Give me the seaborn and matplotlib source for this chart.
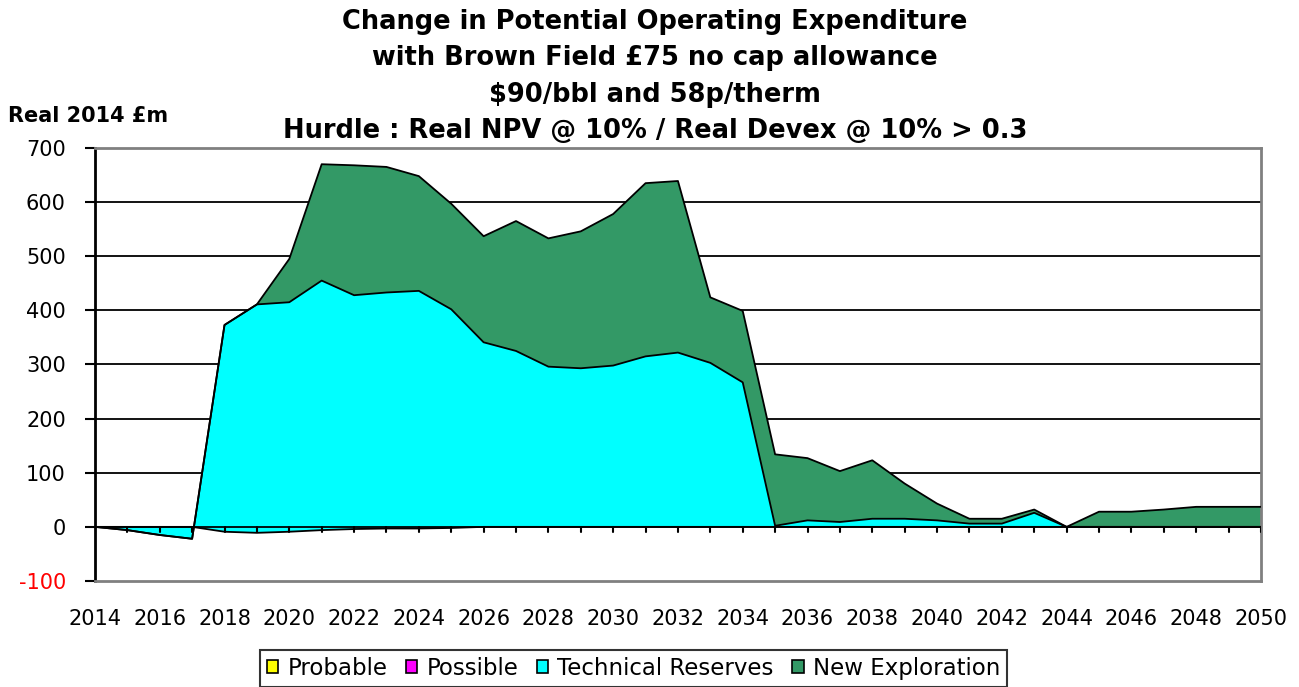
import numpy as np
import pandas as pd
import matplotlib
matplotlib.use("Agg")
import matplotlib.pyplot as plt
import seaborn as sns
from matplotlib.patches import Patch

# ---- data ----
years = list(range(2014, 2051))

# Probable: small negative values 2018-2025
probable = [0, 0, 0, 0, -9, -11, -9, -6, -4, -3, -3, -2,
            0, 0, 0, 0, 0, 0, 0, 0, 0, 0, 0, 0,
            0, 0, 0, 0, 0, 0, 0, 0, 0, 0, 0, 0, 0]
possible = [0] * len(years)
# visible top of the cyan band (cumulative probable + possible + technical)
tech_top = [0, -6, -15, -22, 373, 411, 415, 455, 428, 433, 436, 402,
            341, 325, 296, 293, 298, 315, 322, 303, 267, 2, 12, 9,
            15, 15, 12, 6, 6, 26, 0, 0, 0, 0, 0, 0, 0]
# visible top of the green band (total)
total_top = [0, -6, -15, -22, 373, 411, 495, 670, 668, 665, 648, 597,
             537, 565, 533, 546, 578, 635, 639, 424, 399, 134, 127, 103,
             123, 80, 43, 15, 15, 32, 0, 28, 28, 32, 37, 37, 37]

title_lines = ["Change in Potential Operating Expenditure",
               "with Brown Field £75 no cap allowance",
               "$90/bbl and 58p/therm",
               "Hurdle : Real NPV @ 10% / Real Devex @ 10% > 0.3"]

df = pd.DataFrame({"year": years, "Probable": probable, "Possible": possible})
df["Technical Reserves"] = np.array(tech_top) - df["Probable"] - df["Possible"]
df["New Exploration"] = np.array(total_top) - np.array(tech_top)

series = ["Probable", "Possible", "Technical Reserves", "New Exploration"]
colors = {"Probable": "#ffff00", "Possible": "#ff00ff",
          "Technical Reserves": "#00ffff", "New Exploration": "#339966"}

# ---- style ----
sns.set_style("white")
plt.rcParams['font.family'] = ['DejaVu Sans']
plt.rcParams['axes.unicode_minus'] = False
plt.rcParams['text.color'] = 'black'
plt.rcParams['xtick.color'] = 'black'
plt.rcParams['ytick.color'] = 'black'

fig = plt.figure(figsize=(12.99, 6.87), dpi=100)
ax = fig.add_axes([0.0731, 0.1543, 0.8976, 0.6303])

# stacked areas, Excel style: each band from previous cumulative to current
cum_prev = np.zeros(len(years))
for s in series:
    cum = cum_prev + df[s].values
    ax.fill_between(df["year"], cum_prev, cum, facecolor=colors[s],
                    edgecolor="none", zorder=2)
    if s != "Possible":
        sns.lineplot(x=df["year"], y=cum, color="black", lw=1.3, ax=ax,
                     zorder=3, legend=False)
    cum_prev = cum

# axes & grid
ax.set_xlim(2014, 2050)
ax.set_ylim(-100, 700)
ax.set_yticks(range(-100, 701, 100))
for v in range(100, 700, 100):
    ax.axhline(v, color="black", lw=1.3, zorder=1)
ax.axhline(0, color="black", lw=1.3, zorder=4)
# year ticks hanging below the zero line
for yr in years:
    ax.plot([yr, yr], [0, -9], color="black", lw=1.5, zorder=4)

ax.set_xticks(range(2014, 2051, 2))
ax.tick_params(axis="x", length=0, pad=20, labelsize=15)
ax.tick_params(axis="y", length=7, width=1.5, direction="out",
               labelsize=15, pad=14, left=True)
ax.get_yticklabels()[0].set_color("red")

for side in ["top", "right", "bottom"]:
    ax.spines[side].set_color("#808080")
    ax.spines[side].set_linewidth(2)
ax.spines["left"].set_color("black")
ax.spines["left"].set_linewidth(2)
ax.set_xlabel("")
ax.set_ylabel("")

# titles
for line, ypix in zip(title_lines, [22, 58, 95, 131]):
    fig.text(0.504, 1 - ypix / 687, line, ha="center", va="center",
             fontsize=18.5, fontweight="bold")
fig.text(0.006, 1 - 116 / 687, "Real 2014 £m", ha="left", va="center",
         fontsize=15, fontweight="bold")

# legend
handles = [Patch(facecolor=colors[s], edgecolor="black", lw=1.2, label=s)
           for s in series]
leg = fig.legend(handles=handles, loc="lower center", ncol=4,
                 bbox_to_anchor=(0.4877, -0.016), frameon=True, fancybox=False,
                 fontsize=16.5, handlelength=0.5, handleheight=0.5,
                 handletextpad=0.4, columnspacing=0.8, borderpad=0.3)
leg.get_frame().set_edgecolor("black")
leg.get_frame().set_linewidth(1.5)

fig.savefig("out.png", dpi=100)
